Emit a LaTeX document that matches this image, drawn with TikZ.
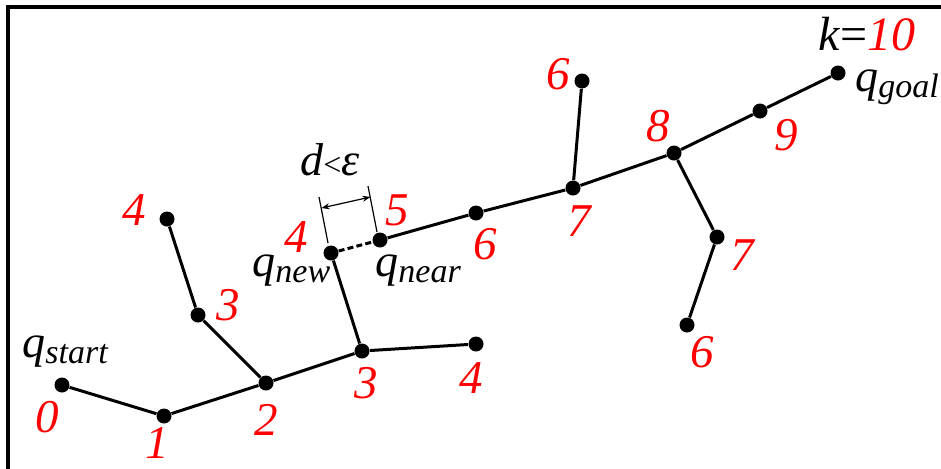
\documentclass[tikz,border=0pt]{standalone}
\usepackage{fontspec}
\setmainfont{Liberation Serif}
\usetikzlibrary{arrows.meta}
\tikzset{
  dot/.style={circle, fill=black, inner sep=0pt, minimum size=7.5pt},
  edge/.style={line width=1.5pt},
  lab/.style={text=red, inner sep=0pt, font=\itshape\fontsize{23.5}{23.5}\selectfont},
  qlab/.style={inner sep=0pt, anchor=base west, font=\fontsize{23}{23}\selectfont},
  dimline/.style={line width=0.6pt},
}
\newcommand{\qsub}[1]{\textit{q}\raisebox{-3pt}{\fontsize{17}{17}\selectfont\itshape #1}}
\begin{document}
\begin{tikzpicture}[x=0.5pt,y=-0.5pt]
\useasboundingbox (0,0) rectangle (941,468);
\begin{scope}
\clip (0,0) rectangle (941,468);
\draw[line width=2pt] (8,7) rectangle (1000,540);
\end{scope}
% tree nodes
\node[dot] (s)  at (62,385) {};
\node[dot] (a1) at (164,416) {};
\node[dot] (a2) at (266,383) {};
\node[dot] (a3) at (362,351) {};
\node[dot] (a4) at (476,344) {};
\node[dot] (b3) at (198,315) {};
\node[dot] (b4) at (167,219) {};
\node[dot] (qn) at (331,253) {};
\node[dot] (qr) at (380,240) {};
\node[dot] (c6) at (476,213) {};
\node[dot] (c7) at (573,188) {};
\node[dot] (t6) at (582,81) {};
\node[dot] (c8) at (674,153) {};
\node[dot] (c9) at (760,111) {};
\node[dot] (g)  at (838,73) {};
\node[dot] (r7) at (717,237) {};
\node[dot] (r6) at (687,325) {};
% edges
\draw[edge] (s) -- (a1) -- (a2) -- (a3) -- (a4);
\draw[edge] (a2) -- (b3) -- (b4);
\draw[edge] (a3) -- (qn);
\draw[edge, dash pattern=on 3pt off 1.6pt] (qn) -- (qr);
\draw[edge] (qr) -- (c6) -- (c7) -- (c8) -- (c9) -- (g);
\draw[edge] (c7) -- (t6);
\draw[edge] (c8) -- (r7) -- (r6);
% dimension
\coordinate (d1a) at (319,197);
\coordinate (d1b) at (328,243);
\coordinate (d2a) at (368,186);
\coordinate (d2b) at (377,232);
\coordinate (m1) at (321.5,208);
\coordinate (m2) at (370.5,197);
\draw[dimline] (d1a) -- (d1b);
\draw[dimline] (d2a) -- (d2b);
\draw[dimline, {Stealth[length=4pt,width=3pt]}-{Stealth[length=4pt,width=3pt]}] (m1) -- (m2);
\node[qlab, anchor=base] (dl) at (330,175) {\textit{d}{\fontsize{16}{16}\selectfont <}\textit{ε}};
% number labels
\node[lab] (l0)  at (47,417) {0};
\node[lab] (l1)  at (157,443) {1};
\node[lab] (l2)  at (266,420) {2};
\node[lab] (l3)  at (366,383) {3};
\node[lab] (l4)  at (471,378) {4};
\node[lab] (l3b) at (228,305) {3};
\node[lab] (l4b) at (134,210) {4};
\node[lab] (l4n) at (296,237) {4};
\node[lab] (l5)  at (397,210) {5};
\node[lab] (l6)  at (485,244) {6};
\node[lab] (l7)  at (579,221) {7};
\node[lab] (l6t) at (558,74) {6};
\node[lab] (l8)  at (658,126) {8};
\node[lab] (l9)  at (786,135) {9};
\node[lab] (l7r) at (742,255) {7};
\node[lab] (l6r) at (702,352) {6};
% q labels
\node[qlab] (qs) at (22,357) {\qsub{start}};
\node[qlab] (qnl) at (252,276) {\qsub{new}};
\node[qlab] (qrl) at (375,276) {\qsub{near}};
\node[qlab] (qg) at (855,91) {\qsub{goal}};
\node[qlab, anchor=base west, font=\fontsize{24}{24}\selectfont] (k) at (818,50) {\textit{k}=\textcolor{red}{\textit{10}}};
\end{tikzpicture}
\end{document}
